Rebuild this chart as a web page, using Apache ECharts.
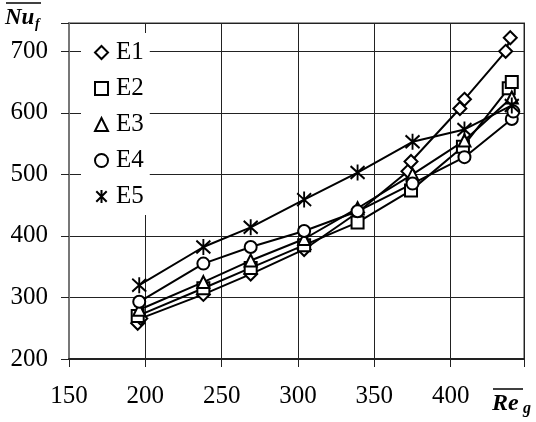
<!DOCTYPE html>
<html>
<head>
<meta charset="utf-8">
<script src="https://cdn.jsdelivr.net/npm/echarts@6/dist/echarts.min.js"></script>
<style>
  html, body { margin: 0; padding: 0; background: #fff; }
  #chart { width: 536px; height: 422px; }
</style>
</head>
<body>
<div id="chart"></div>
<script>
// Re_g values and Nu_f values per run
const reE1 = [195, 197, 238, 269, 304, 339, 372, 374, 406, 409, 436, 439]
const nuE1 = [258, 266, 305, 338, 378, 438, 505, 521, 607, 622, 700, 722]
const reE2 = [195, 238, 269, 304, 339, 374, 408, 438, 440]
const nuE2 = [270, 315, 348, 385, 422, 474, 545, 640, 650]
const reE3 = [196, 238, 269, 304, 339, 375, 409, 440]
const nuE3 = [280, 325, 360, 395, 445, 500, 555, 625]
const reE4 = [196, 238, 269, 304, 339, 375, 409, 440, 441]
const nuE4 = [293, 355, 382, 408, 440, 485, 528, 590, 602]
const reE5 = [196, 238, 269, 304, 339, 375, 409, 440]
const nuE5 = [320, 382, 414, 459, 503, 553, 573, 612]

const seriesNames = ['E1', 'E2', 'E3', 'E4', 'E5']
const xTicks = [150, 200, 250, 300, 350, 400]
const yTicks = [200, 300, 400, 500, 600, 700]

const starPath = 'path://M-8,-8L8,8M8,-8L-8,8M0,-10L0,10'
const symbols = ['diamond', 'rect', 'triangle', 'circle', starPath]
const symbolSizes = [13, 12, 12, 12, [14, 16]]

const allRe = [reE1, reE2, reE3, reE4, reE5]
const allNu = [nuE1, nuE2, nuE3, nuE4, nuE5]

const font = 'Liberation Serif'

const chart = echarts.init(document.getElementById('chart'))

const series = seriesNames.map((name, i) => ({
  name: name,
  type: 'line',
  data: allRe[i].map((r, j) => [r, allNu[i][j]]),
  symbol: symbols[i],
  symbolSize: symbolSizes[i],
  showAllSymbol: true,
  lineStyle: { color: '#000', width: 2 },
  itemStyle: { color: '#fff', borderColor: '#000', borderWidth: 2 },
  emphasis: { disabled: true },
  animation: false
}))

const option = {
  animation: false,
  grid: {
    left: 69, top: 23, right: 12, bottom: 63,
    show: true, borderColor: '#999', borderWidth: 2
  },
  xAxis: {
    type: 'value',
    min: 150, max: 448, interval: 50,
    axisLine: { lineStyle: { color: '#222', width: 2 } },
    axisTick: { show: true, length: 8, lineStyle: { color: '#222' } },
    splitLine: { lineStyle: { color: '#222', width: 1 } },
    axisLabel: {
      margin: 25,
      fontFamily: font, fontSize: 25, color: '#000',
      formatter: v => xTicks.includes(v) ? String(v) : ''
    }
  },
  yAxis: {
    type: 'value',
    min: 200, max: 746, interval: 100,
    axisLine: { show: true, lineStyle: { color: '#777', width: 2 } },
    axisTick: { show: true, length: 8, lineStyle: { color: '#222' } },
    splitLine: { lineStyle: { color: '#222', width: 1 } },
    axisLabel: {
      margin: 21,
      fontFamily: font, fontSize: 25, color: '#000',
      formatter: v => yTicks.includes(v) ? String(v) : ''
    }
  },
  legend: {
    orient: 'vertical',
    left: 81, top: 33,
    padding: [7, 6, 6, 13],
    backgroundColor: '#fff',
    itemWidth: 13, itemHeight: 13,
    itemGap: 11,
    textStyle: { fontFamily: font, fontSize: 25, color: '#000', lineHeight: 25, padding: [0, 0, 0, 3] },
    itemStyle: { color: '#fff', borderColor: '#000', borderWidth: 2 },
    data: seriesNames.map((n, i) => ({ name: n, icon: symbols[i] })),
    selectedMode: false
  },
  graphic: [
    { type: 'text', x: 5, y: 7, style: { text: 'Nu', font: 'italic bold 23px ' + font, fill: '#000' } },
    { type: 'text', x: 35, y: 17, style: { text: 'f', font: 'italic bold 14px ' + font, fill: '#000' } },
    { type: 'line', shape: { x1: 6, y1: 3, x2: 41, y2: 3 }, style: { stroke: '#000', lineWidth: 1.5 } },
    { type: 'text', x: 492, y: 392, style: { text: 'Re', font: 'italic bold 24px ' + font, fill: '#000' } },
    { type: 'text', x: 523, y: 401, style: { text: 'g', font: 'italic bold 16px ' + font, fill: '#000' } },
    { type: 'line', shape: { x1: 493, y1: 389, x2: 523, y2: 389 }, style: { stroke: '#000', lineWidth: 1.5 } }
  ],
  series: series
}

chart.setOption(option)
</script>
</body>
</html>
